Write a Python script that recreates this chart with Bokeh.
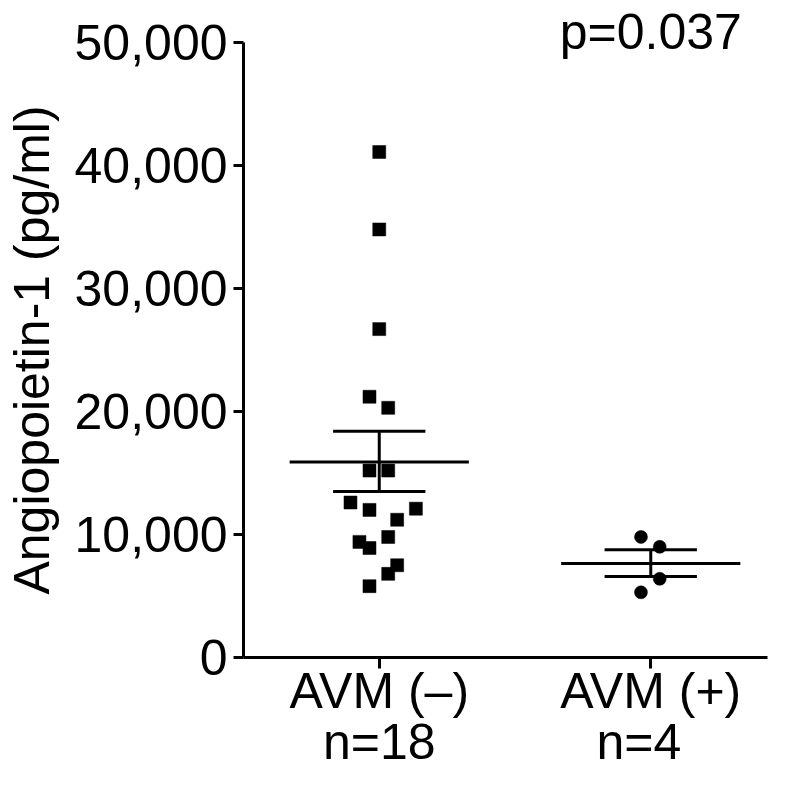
from bokeh.plotting import figure
from bokeh.models import (FixedTicker, NumeralTickFormatter, LinearAxis, ColumnDataSource)
from bokeh.embed import file_html
from bokeh.resources import INLINE

# ---- data ----
categories = ["AVM (\u2013)", "AVM (+)"]
group_n = ["n=18", "n=4"]
p_text = "p=0.037"
y_title = "Angiopoietin-1 (pg/ml)"

neg_values = [41100, 34800, 26700, 21200, 20300, 15200, 15200, 12600, 12100,
              12000, 11200, 9800, 9400, 8900, 7500, 6800, 5800]
neg_jitter = [0.0, 0.0, 0.0, -0.036, 0.033, -0.036, 0.033, -0.106, 0.135,
              -0.036, 0.066, 0.033, -0.073, -0.036, 0.066, 0.033, -0.036]

pos_values = [9800, 9000, 6400, 5300]
pos_jitter = [-0.036, 0.033, 0.033, -0.036]

means = [15900, 7640]
sem_hi = [18400, 8760]
sem_lo = [13500, 6590]

y_ticks = [0, 10000, 20000, 30000, 40000, 50000]

# ---- figure ----
FONT = "Liberation Sans"
FS = "50px"
p = figure(width=781, height=783, x_range=(0.5, 2.43), y_range=(0, 50000),
           output_backend="svg", toolbar_location=None,
           min_border_left=238, min_border_right=14, min_border_top=35,
           min_border_bottom=126)
p.outline_line_color = None
p.grid.visible = False
p.background_fill_color = "white"

# y axis
p.yaxis.ticker = FixedTicker(ticks=y_ticks)
p.yaxis.formatter = NumeralTickFormatter(format="0,0")
p.yaxis.minor_tick_line_color = None
p.yaxis.major_tick_in = 0
p.yaxis.major_tick_out = 10
p.yaxis.major_label_standoff = 6
p.yaxis.axis_label = y_title
p.yaxis.axis_label_text_font = FONT
p.yaxis.axis_label_text_font_size = FS
p.yaxis.axis_label_text_font_style = "normal"
p.yaxis.axis_label_text_color = "black"
p.yaxis.axis_label_standoff = 12

for ax in (p.xaxis, p.yaxis):
    ax.axis_line_width = 3
    ax.major_tick_line_width = 3
    ax.axis_line_color = "black"
    ax.major_tick_line_color = "black"
    ax.major_label_text_font = FONT
    ax.major_label_text_font_size = FS
    ax.major_label_text_color = "black"

# x axis (categories)
p.xaxis.ticker = FixedTicker(ticks=[1, 2])
p.xaxis.major_label_overrides = {1: categories[0], 2: categories[1]}
p.xaxis.minor_tick_line_color = None
p.xaxis.major_tick_in = 0
p.xaxis.major_tick_out = 11
p.xaxis.major_label_standoff = -6

# second below axis: group sizes
n_axis = LinearAxis(ticker=FixedTicker(ticks=[1, 1.956]),
                    major_label_overrides={1: group_n[0], 1.956: group_n[1]},
                    axis_line_color=None, major_tick_line_color=None,
                    minor_tick_line_color=None, major_tick_in=0, major_tick_out=0,
                    major_label_standoff=-8, major_label_text_font=FONT,
                    major_label_text_font_size=FS, major_label_text_color="black")
p.add_layout(n_axis, "below")

# above axis: p value
p_axis = LinearAxis(ticker=FixedTicker(ticks=[2]),
                    major_label_overrides={2: p_text},
                    axis_line_color=None, major_tick_line_color=None,
                    minor_tick_line_color=None, major_tick_in=0, major_tick_out=0,
                    major_label_standoff=-17, major_label_text_font=FONT,
                    major_label_text_font_size=FS, major_label_text_color="black")
p.add_layout(p_axis, "above")

# points
src_neg = ColumnDataSource(dict(x=[1 + j for j in neg_jitter], y=neg_values))
src_pos = ColumnDataSource(dict(x=[2 + j for j in pos_jitter], y=pos_values))
p.scatter("x", "y", source=src_neg, marker="square", size=13,
          fill_color="black", line_color="black", line_width=0.5)
p.scatter("x", "y", source=src_pos, marker="circle", size=13,
          fill_color="black", line_color="black", line_width=0.5)

# mean and SEM
gx = [1, 2]
mean_hw = 0.33
cap_hw = 0.17
p.segment(x0=[g - mean_hw for g in gx], x1=[g + mean_hw for g in gx],
          y0=means, y1=means, line_color="black", line_width=3)
p.segment(x0=[g - cap_hw for g in gx], x1=[g + cap_hw for g in gx],
          y0=sem_hi, y1=sem_hi, line_color="black", line_width=3)
p.segment(x0=[g - cap_hw for g in gx], x1=[g + cap_hw for g in gx],
          y0=sem_lo, y1=sem_lo, line_color="black", line_width=3)
p.segment(x0=gx, x1=gx, y0=sem_lo, y1=sem_hi, line_color="black", line_width=3)

open("out.html", "w").write(file_html(p, INLINE))
